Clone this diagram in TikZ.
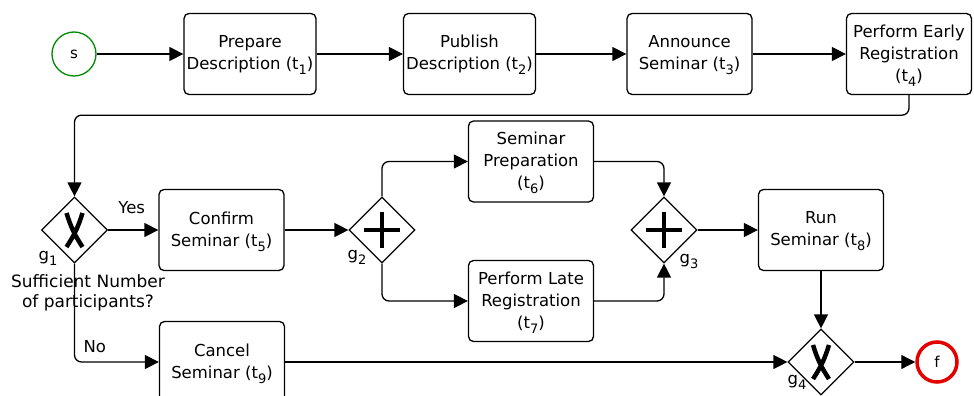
\documentclass[tikz,border=0pt]{standalone}
\usepackage{fontspec}
\setmainfont{DejaVu Sans}
\usetikzlibrary{arrows.meta,shapes.geometric}

% lowered index digit, as in t_1
\newcommand\idx[1]{\raisebox{-5pt}[0pt][0pt]{\fontsize{13}{13}\selectfont #1}}

\begin{document}
\begin{tikzpicture}[x=1pt,y=-1pt,
  every node/.style={font=\fontsize{16.5}{22}\selectfont},
  task/.style={draw, rounded corners=5pt, line width=1.3pt, minimum width=125pt,
    minimum height=81pt, align=center, inner sep=1pt},
  wide/.style={task, minimum width=132pt},
  gate/.style={draw, diamond, line width=1.2pt, minimum width=66pt,
    minimum height=66pt, inner sep=0pt},
  flow/.style={line width=1.3pt, -{Triangle[length=14pt,width=14pt]}, rounded corners=7pt},
  lbl/.style={inner sep=0pt},
  plusmark/.pic={\draw[line width=4.5pt] (-18,0) -- (18,0) (0,-18) -- (0,18);},
  xmark/.pic={\draw[line width=4.5pt] (-8,-17) to[bend right=8] (8,17)
                (8,-17) to[bend left=8] (-8,17);}
]
\useasboundingbox (0,0) rectangle (974,396);

% events
\node[circle, draw=green!55!black, line width=1.3pt, minimum size=44pt, inner sep=0pt,
      font=\fontsize{15}{18}\selectfont] (s) at (74,54) {s};
\node[circle, draw=red!90!black, line width=3.5pt, minimum size=40pt, inner sep=0pt,
      font=\fontsize{15}{18}\selectfont] (f) at (937,362) {f};

% tasks
\node[wide] (t1) at (250,54) {Prepare\\Description (t\idx{1})};
\node[wide] (t2) at (469.5,54) {Publish\\Description (t\idx{2})};
\node[task] (t3) at (689.5,54) {Announce\\Seminar (t\idx{3})};
\node[task] (t4) at (909,54) {Perform Early\\Registration\\(t\idx{4})};
\node[task] (t5) at (221.5,230) {Confirm\\Seminar (t\idx{5})};
\node[task] (t6) at (531,161.5) {Seminar\\Preparation\\(t\idx{6})};
\node[task] (t7) at (531,301) {Perform Late\\Registration\\(t\idx{7})};
\node[task] (t8) at (821,230) {Run\\Seminar (t\idx{8})};
\node[task] (t9) at (222,362) {Cancel\\Seminar (t\idx{9})};

% gateways
\node[gate] (g1) at (74.5,230) {};
\node[gate] (g2) at (382,230) {};
\node[gate] (g3) at (664,230) {};
\node[gate] (g4) at (821,362) {};
\pic at (g1) {xmark};
\pic at (g2) {plusmark};
\pic at (g3) {plusmark};
\pic at (g4) {xmark};

% gateway labels
\node[lbl] (l1) at (48,258) {g\idx{1}};
\node[lbl] (l2) at (357,257) {g\idx{2}};
\node[lbl] (l3) at (689,261) {g\idx{3}};
\node[lbl] (l4) at (797,382) {g\idx{4}};
\node[lbl, align=center, font=\fontsize{17}{20}\selectfont] (q) at (88,293)
  {Sufficient Number\\of participants?};

% sequence flows
\draw[flow] (s) -- (t1);
\draw[flow] (t1) -- (t2);
\draw[flow] (t2) -- (t3);
\draw[flow] (t3) -- (t4);
\draw[flow] (t4.south) -- ++(0,20) -| (g1.north);
\draw[flow] (g1.east) -- node[lbl, above=16pt, pos=0.47] {Yes} (t5.west);
\draw[flow] (g1.south) |- node[lbl, pos=0.62, above=9pt] {No} (t9.west);
\draw[flow] (t5) -- (g2.west);
\draw[flow] (g2.north) |- (t6.west);
\draw[flow] (g2.south) |- (t7.west);
\draw[flow] (t6.east) -| (g3.north);
\draw[flow] (t7.east) -| (g3.south);
\draw[flow] (g3.east) -- (t8.west);
\draw[flow] (t8.south) -- (g4.north);
\draw[flow] (t9.east) -- (g4.west);
\draw[flow] (g4.east) -- (f.west);
\end{tikzpicture}
\end{document}
